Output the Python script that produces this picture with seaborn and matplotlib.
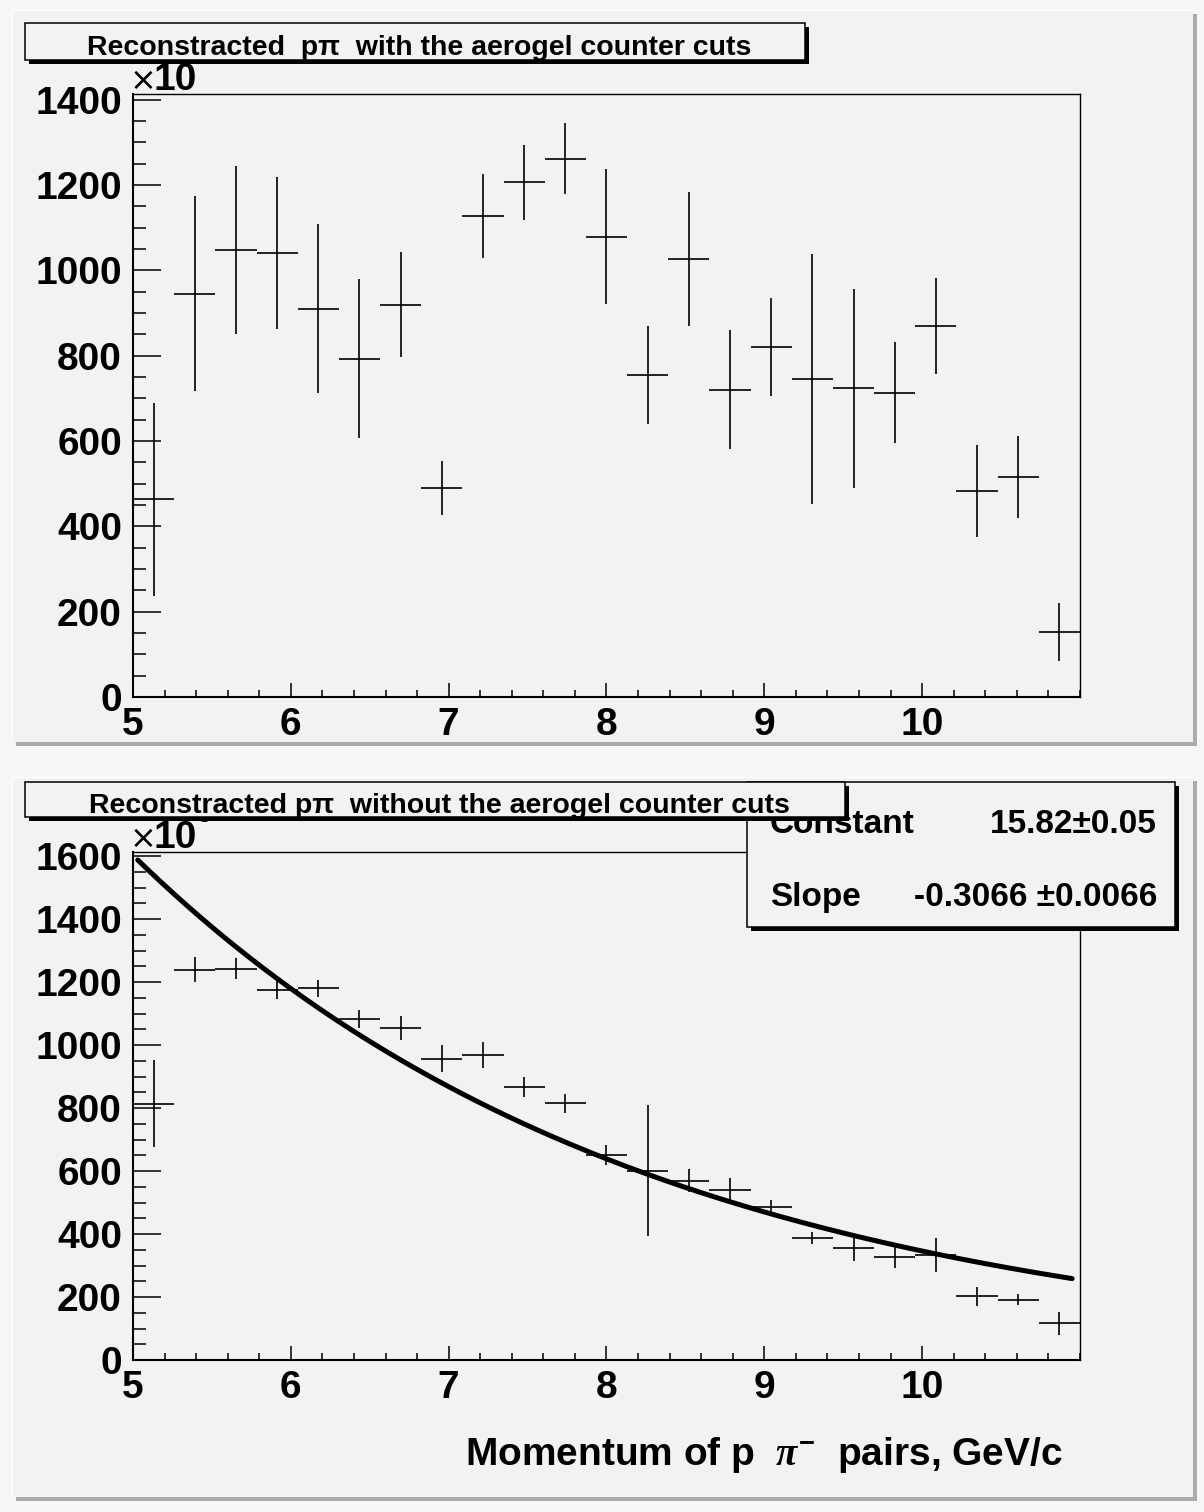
import numpy as np
import pandas as pd
import matplotlib
matplotlib.use("Agg")
import matplotlib.pyplot as plt
import seaborn as sns
from matplotlib.patches import Rectangle
from matplotlib.ticker import MultipleLocator

# ---------------- data (values in units of 10^3 entries) ----------------
x_min, x_max, n_bins = 5.0, 11.0, 23

with_cuts = [463, 945, 1047, 1040, 910, 793, 919, 489, 1127, 1206, 1261, 1079,
             755, 1026, 720, 820, 745, 723, 713, 870, 482, 515, 152]
with_cuts_err = [227, 229, 197, 178, 198, 187, 123, 63, 98, 88, 83, 159,
                 115, 157, 140, 115, 292, 233, 118, 112, 108, 96, 68]

without_cuts = [814, 1239, 1243, 1174, 1180, 1082, 1054, 956, 969, 868, 815, 651,
                601, 569, 539, 487, 387, 355, 326, 333, 203, 192, 116]
without_cuts_err = [138, 40, 32, 29, 27, 28, 38, 43, 41, 32, 30, 33,
                    208, 36, 38, 22, 20, 40, 35, 54, 30, 18, 37]

fit_constant, fit_constant_err = 15.82, 0.05
fit_slope, fit_slope_err = -0.3066, 0.0066
fit_range = (5.03, 10.95)

titles = ["Reconstracted  p\u03c0  with the aerogel counter cuts",
          "Reconstracted p\u03c0  without the aerogel counter cuts"]
x_label = r"Momentum of p  $\pi^{-}$  pairs, GeV/c"

# ---------------- style ----------------
sns.set_theme(style="white")
plt.rcParams["font.family"] = ["Liberation Sans", "DejaVu Sans"]
plt.rcParams["font.weight"] = "bold"
plt.rcParams["text.color"] = "black"
plt.rcParams["axes.labelcolor"] = "black"
plt.rcParams["xtick.color"] = "black"
plt.rcParams["ytick.color"] = "black"
plt.rcParams["mathtext.fontset"] = "custom"
plt.rcParams["mathtext.rm"] = "Liberation Sans:bold"
plt.rcParams["mathtext.it"] = "Liberation Serif:italic"
plt.rcParams["mathtext.bf"] = "Liberation Sans:bold"

W, H = 1204, 1512
BG = "#f2f2f2"
fig = plt.figure(figsize=(W / 100, H / 100), dpi=100, facecolor="#f6f6f6")


def fx(px):
    return px / W


def fy(py):
    return 1 - py / H


def rect(x0, y0, x1, y1, **kw):
    r = Rectangle((fx(x0), fy(y1)), fx(x1) - fx(x0), fy(y0) - fy(y1),
                  transform=fig.transFigure, **kw)
    fig.patches.append(r)
    return r


def pad(x0, y0, x1, y1):
    # raised pad: dark bottom/right border, light top/left
    rect(x0 + 4, y0 + 4, x1 + 4, y1 + 4, facecolor="#ababab", edgecolor="none", zorder=-3)
    rect(x0, y0, x1, y1, facecolor=BG, edgecolor="none", zorder=-2)
    rect(x0, y0, x1, y0 + 1, facecolor="white", edgecolor="none", zorder=-1)
    rect(x0, y0, x0 + 1, y1, facecolor="white", edgecolor="none", zorder=-1)


def shadow_box(x0, y0, x1, y1, z):
    rect(x0 + 4, y0 + 4, x1 + 4, y1 + 4, facecolor="black", edgecolor="none", zorder=z)
    rect(x0, y0, x1, y1, facecolor=BG, edgecolor="black", linewidth=1.1, zorder=z + 0.1)


pad(12, 10, 1193, 742)
pad(12, 777, 1193, 1497)

edges = np.linspace(x_min, x_max, n_bins + 1)
centers = 0.5 * (edges[:-1] + edges[1:])
half_w = 0.5 * (edges[1] - edges[0])

df_with = pd.DataFrame({"x": centers, "y": with_cuts, "err": with_cuts_err})
df_without = pd.DataFrame({"x": centers, "y": without_cuts, "err": without_cuts_err})

xf = np.linspace(fit_range[0], fit_range[1], 300)
df_fit = pd.DataFrame({"x": xf, "y": np.exp(fit_constant + fit_slope * xf) / 1000.0})


def make_axes(top_px, bottom_px, ymax):
    ax = fig.add_axes([fx(133), fy(bottom_px), fx(1080) - fx(133), fy(top_px) - fy(bottom_px)])
    ax.set_facecolor(BG)
    ax.set_xlim(x_min, x_max)
    ax.set_ylim(0, ymax)
    ax.xaxis.set_major_locator(MultipleLocator(1))
    ax.xaxis.set_minor_locator(MultipleLocator(0.2))
    ax.yaxis.set_major_locator(MultipleLocator(200))
    ax.yaxis.set_minor_locator(MultipleLocator(50))
    ax.tick_params(axis="y", which="both", direction="in", left=True, right=False,
                   width=1.1, color="black", labelsize=28, pad=8, labelcolor="black")
    ax.tick_params(axis="y", which="major", length=20)
    ax.tick_params(axis="y", which="minor", length=9.5)
    ax.tick_params(axis="x", which="both", direction="in", bottom=True, top=False,
                   width=1.1, color="black", labelsize=28, pad=7, labelcolor="black")
    ax.tick_params(axis="x", which="major", length=10)
    ax.tick_params(axis="x", which="minor", length=5)
    ax.set_xticks([5, 6, 7, 8, 9, 10])
    ax.set_xticklabels(["5", "6", "7", "8", "9", "10"])
    for lab in ax.get_xticklabels() + ax.get_yticklabels():
        lab.set_fontweight("bold")
        lab.set_color("black")
    for s in ["left", "bottom"]:
        ax.spines[s].set_linewidth(1.5)
        ax.spines[s].set_color("black")
    for s in ["top", "right"]:
        ax.spines[s].set_linewidth(1.0)
        ax.spines[s].set_color("black")
    ax.grid(False)
    ax.set_xlabel("")
    ax.set_ylabel("")
    return ax


def draw_hist(ax, df):
    ax.errorbar(df["x"], df["y"], xerr=half_w, yerr=df["err"], fmt="none",
                ecolor="black", elinewidth=1.2, capsize=0, zorder=3)


# ---------------- top panel ----------------
ax1 = make_axes(94, 697, 1413)
draw_hist(ax1, df_with)

# ---------------- bottom panel ----------------
ax2 = make_axes(852, 1360, 1613)
draw_hist(ax2, df_without)
sns.lineplot(data=df_fit, x="x", y="y", ax=ax2, color="black", linewidth=3.6,
             zorder=4, legend=False)
ax2.set_xlabel("")
ax2.set_ylabel("")


# ---------------- x10^3 exponent labels ----------------
def exponent(top_axis_px):
    base = top_axis_px - 4
    fig.text(fx(130), fy(base), "\u00d7", fontsize=23, fontweight="normal",
             ha="left", va="baseline", zorder=2, family=["DejaVu Sans"])
    fig.text(fx(153), fy(base), "10", fontsize=28, fontweight="bold",
             ha="left", va="baseline", zorder=2)
    fig.text(fx(197), fy(base - 26), "3", fontsize=17, fontweight="bold",
             ha="left", va="baseline", zorder=2)


exponent(94)
exponent(852)

# ---------------- stats box (bottom) ----------------
shadow_box(747, 782, 1175, 927, 3)
fig.text(fx(770), fy(833), "Constant", fontsize=24, fontweight="bold",
         ha="left", va="baseline", zorder=4)
fig.text(fx(1157), fy(833), f"{fit_constant:.2f}\u00b1{fit_constant_err:.2f}",
         fontsize=24, fontweight="bold", ha="right", va="baseline", zorder=4)
fig.text(fx(770), fy(906), "Slope", fontsize=24, fontweight="bold",
         ha="left", va="baseline", zorder=4)
fig.text(fx(1157), fy(906), f"{fit_slope:.4f} \u00b1{fit_slope_err:.4f}",
         fontsize=24, fontweight="bold", ha="right", va="baseline", zorder=4)

# ---------------- title boxes ----------------
shadow_box(25, 23, 805, 60, 6)
fig.text(fx(419), fy(55), titles[0], fontsize=20.5, fontweight="bold",
         ha="center", va="baseline", zorder=7)
shadow_box(25, 782, 845, 817, 6)
fig.text(fx(439), fy(813), titles[1], fontsize=20.5, fontweight="bold",
         ha="center", va="baseline", zorder=7)

# ---------------- x axis title ----------------
fig.text(fx(1063), fy(1465), x_label, fontsize=28, fontweight="bold",
         ha="right", va="baseline", zorder=4)

fig.savefig("out.png", dpi=100, facecolor=fig.get_facecolor())
